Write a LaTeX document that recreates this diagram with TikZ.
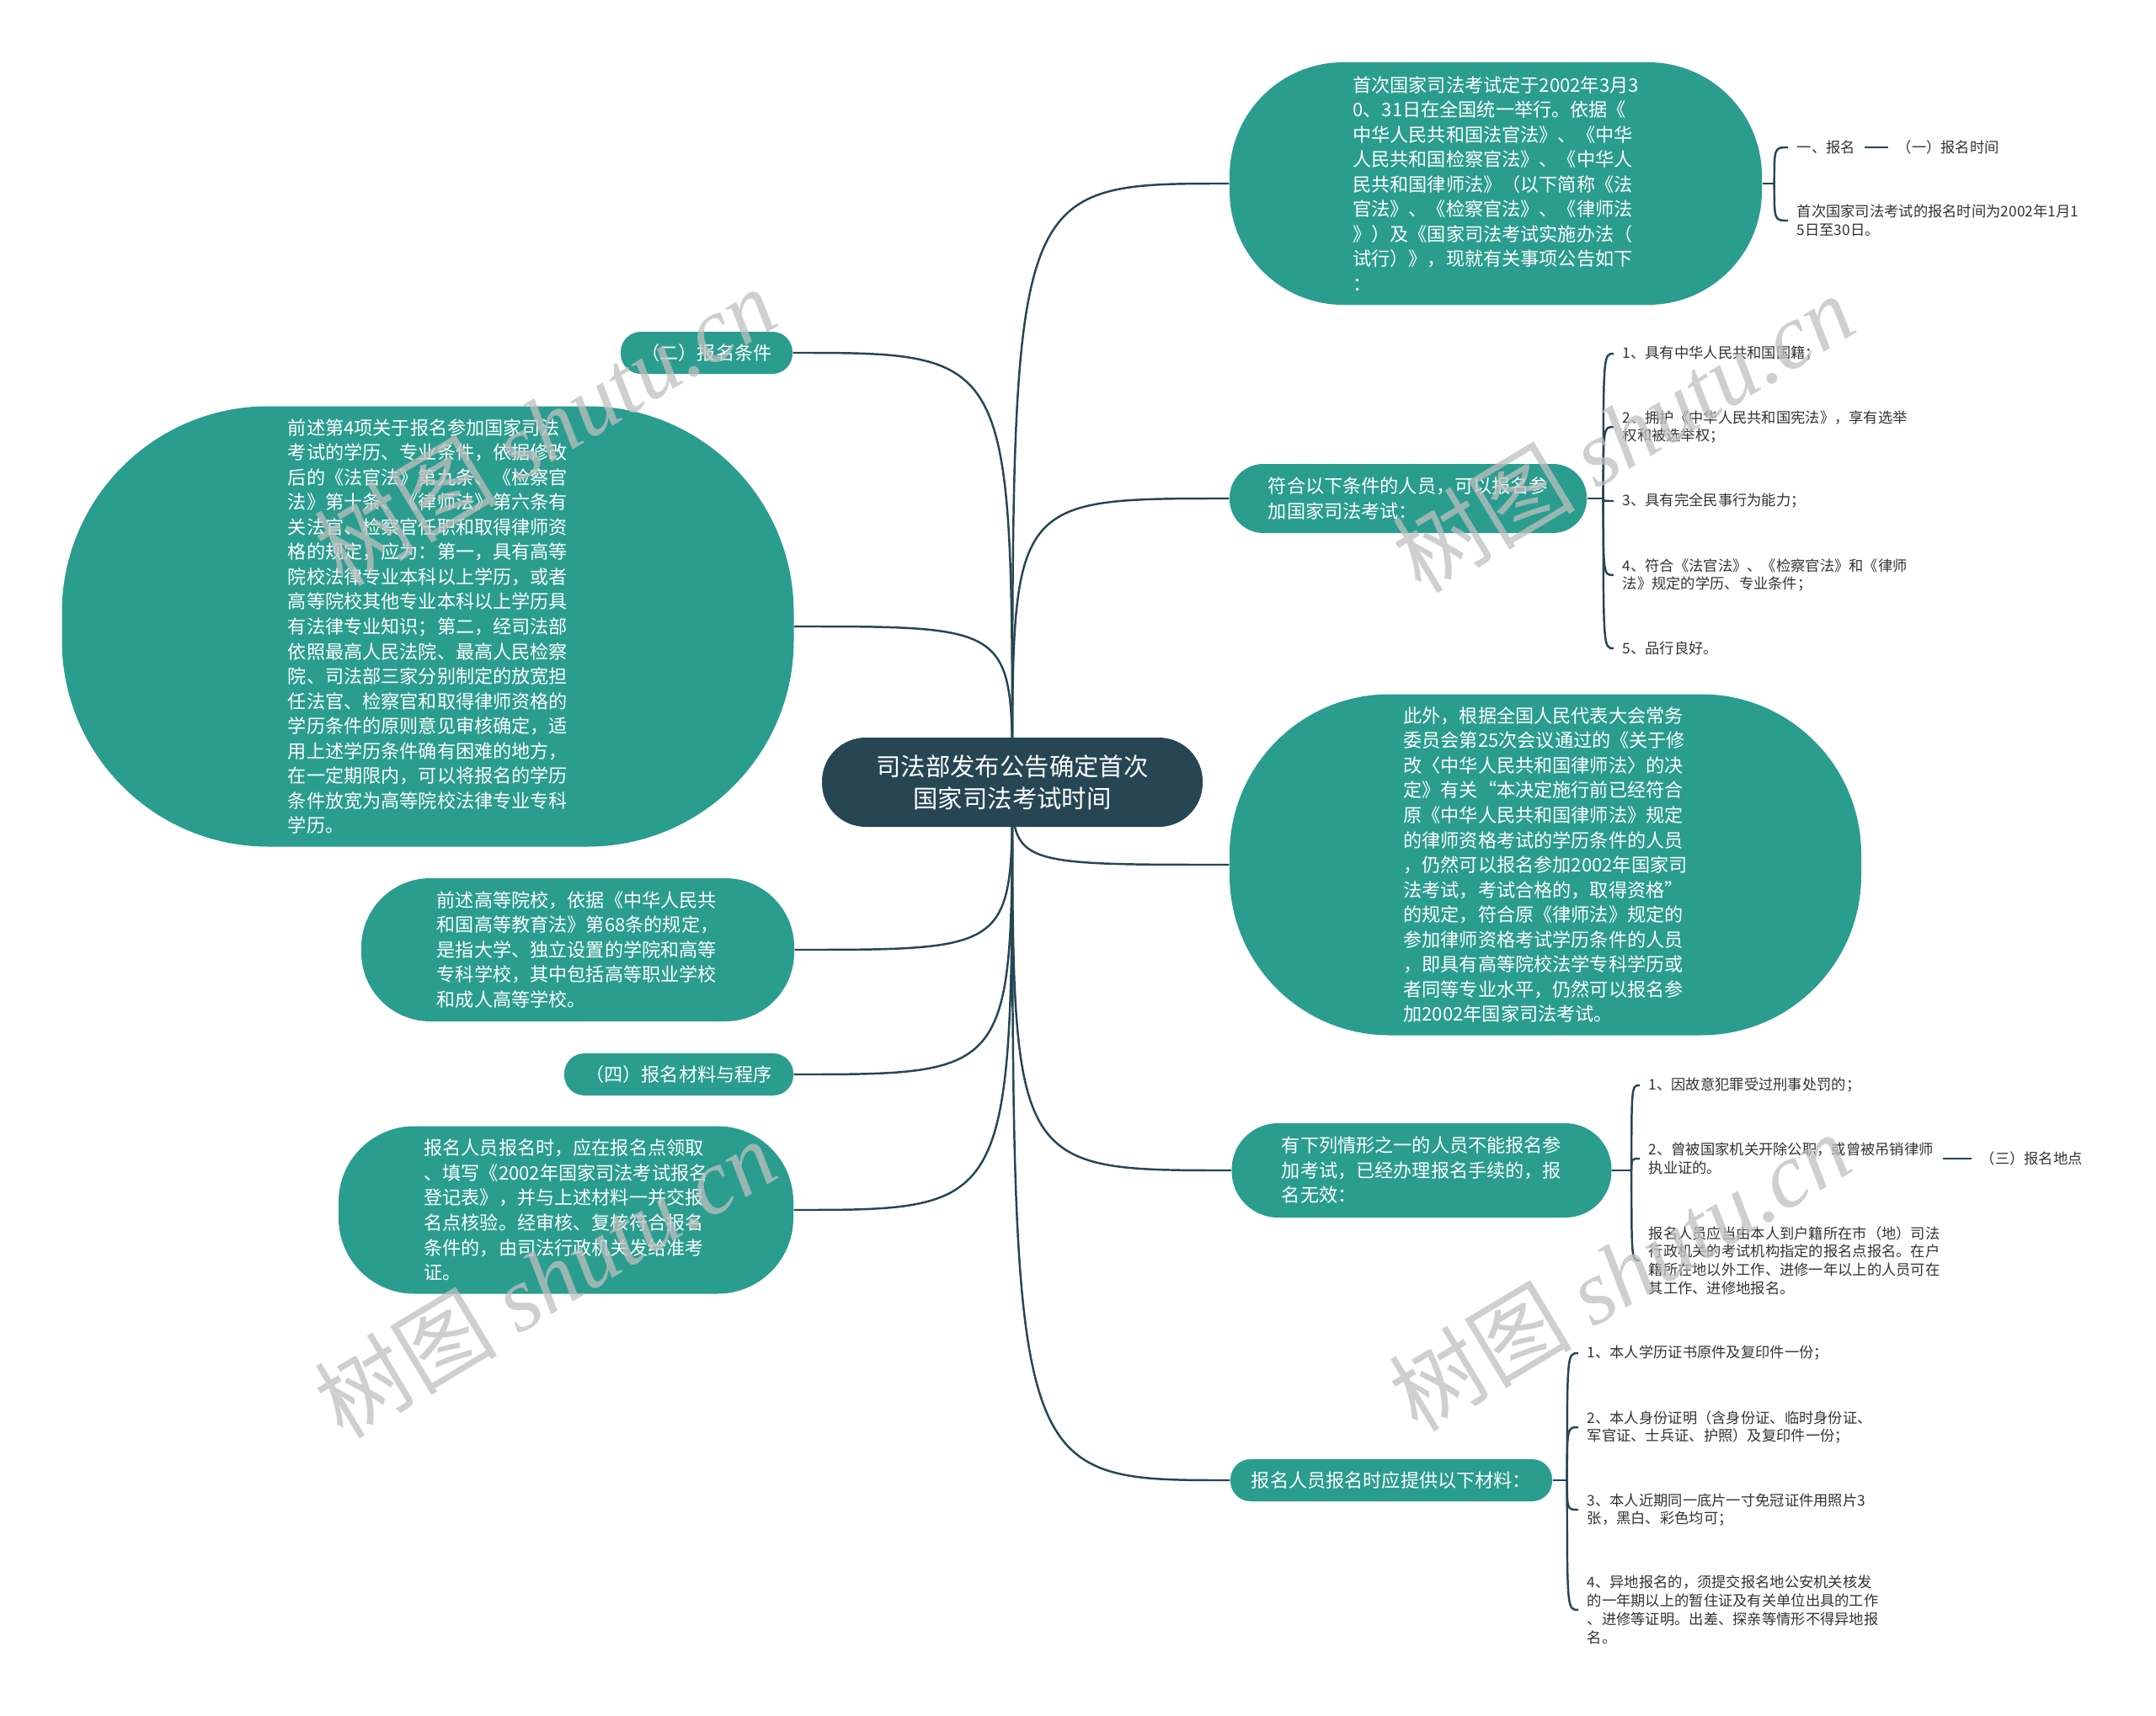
\documentclass[tikz,border=0pt]{standalone}
\usepackage{fontspec}
\setmainfont{Noto Sans CJK SC}
\newfontfamily\wmlatin{Liberation Serif}
\usetikzlibrary{backgrounds}
\definecolor{deepslate}{HTML}{264653}
\definecolor{seateal}{HTML}{2A9D8F}
\definecolor{leafgray}{HTML}{333333}

\begin{document}
\begin{tikzpicture}[
    topic/.style={fill=deepslate, text=white, align=center, inner sep=0pt, font=\fontsize{8.35}{10.8}\selectfont},
    branch/.style={fill=seateal, text=white, align=left, inner sep=0pt, font=\fontsize{6.3}{8.4}\selectfont},
    leaf/.style={anchor=west, align=left, inner xsep=0.1cm, inner ysep=0pt, text=leafgray, font=\fontsize{4.92}{6.2}\selectfont},
    link/.style={draw=deepslate, line width=0.7pt},
    watermark/.style={text=black!25, text opacity=0.75, rotate=31, font=\fontsize{31}{31}\selectfont}
]
\useasboundingbox (0,0) rectangle (25.6,-20.38);

% Centre topic
\node[topic, minimum width=4.52cm, minimum height=1.06cm, rounded corners=0.52cm] (root) at (12.02, -9.29) {司法部发布公告确定首次\\国家司法考试时间};

% Right side branches
\node[branch, minimum width=6.32cm, minimum height=2.88cm, rounded corners=1.35cm] (r1) at (17.76, -2.18) {首次国家司法考试定于2002年3月3\\0、31日在全国统一举行。依据《\\中华人民共和国法官法》、《中华\\人民共和国检察官法》、《中华人\\民共和国律师法》（以下简称《法\\官法》、《检察官法》、《律师法\\》）及《国家司法考试实施办法（\\试行）》，现就有关事项公告如下\\：};
\node[branch, minimum width=4.24cm, minimum height=0.82cm, rounded corners=0.4cm] (r2) at (16.72, -5.92) {符合以下条件的人员，可以报名参\\加国家司法考试：};
\node[branch, minimum width=7.5cm, minimum height=4.05cm, rounded corners=1.9cm] (r3) at (18.35, -10.27) {此外，根据全国人民代表大会常务\\委员会第25次会议通过的《关于修\\改〈中华人民共和国律师法〉的决\\定》有关“本决定施行前已经符合\\原《中华人民共和国律师法》规定\\的律师资格考试的学历条件的人员\\，仍然可以报名参加2002年国家司\\法考试，考试合格的，取得资格”\\的规定，符合原《律师法》规定的\\参加律师资格考试学历条件的人员\\，即具有高等院校法学专科学历或\\者同等专业水平，仍然可以报名参\\加2002年国家司法考试。};
\node[branch, minimum width=4.51cm, minimum height=1.12cm, rounded corners=0.55cm] (r4) at (16.88, -13.90) {有下列情形之一的人员不能报名参\\加考试，已经办理报名手续的，报\\名无效：};
\node[branch, minimum width=3.82cm, minimum height=0.5cm, rounded corners=0.24cm] (r5) at (16.52, -17.58) {报名人员报名时应提供以下材料：};

% Left side branches
\node[branch, minimum width=2.04cm, minimum height=0.5cm, rounded corners=0.24cm] (l1) at (8.39, -4.19) {（二）报名条件};
\node[branch, minimum width=8.69cm, minimum height=5.23cm, rounded corners=2.45cm] (l2) at (5.08, -7.44) {前述第4项关于报名参加国家司法\\考试的学历、专业条件，依据修改\\后的《法官法》第九条、《检察官\\法》第十条、《律师法》第六条有\\关法官、检察官任职和取得律师资\\格的规定，应为：第一，具有高等\\院校法律专业本科以上学历，或者\\高等院校其他专业本科以上学历具\\有法律专业知识；第二，经司法部\\依照最高人民法院、最高人民检察\\院、司法部三家分别制定的放宽担\\任法官、检察官和取得律师资格的\\学历条件的原则意见审核确定，适\\用上述学历条件确有困难的地方，\\在一定期限内，可以将报名的学历\\条件放宽为高等院校法律专业专科\\学历。};
\node[branch, minimum width=5.14cm, minimum height=1.7cm, rounded corners=0.82cm] (l3) at (6.86, -11.28) {前述高等院校，依据《中华人民共\\和国高等教育法》第68条的规定，\\是指大学、独立设置的学院和高等\\专科学校，其中包括高等职业学校\\和成人高等学校。};
\node[branch, minimum width=2.72cm, minimum height=0.5cm, rounded corners=0.24cm] (l4) at (8.06, -12.76) {（四）报名材料与程序};
\node[branch, minimum width=5.4cm, minimum height=1.99cm, rounded corners=0.9cm] (l5) at (6.72, -14.37) {报名人员报名时，应在报名点领取\\、填写《2002年国家司法考试报名\\登记表》，并与上述材料一并交报\\名点核验。经审核、复核符合报名\\条件的，由司法行政机关发给准考\\证。};

% Leaves of r1
\node[leaf] (r1a) at (21.23, -1.75) {一、报名};
\node[leaf] (r1a1) at (22.42, -1.75) {（一）报名时间};
\node[leaf] (r1b) at (21.23, -2.62) {首次国家司法考试的报名时间为2002年1月1\\5日至30日。};

% Leaves of r2
\node[leaf] (r2a) at (19.16, -4.20) {1、具有中华人民共和国国籍；};
\node[leaf] (r2b) at (19.16, -5.07) {2、拥护《中华人民共和国宪法》，享有选举\\权和被选举权；};
\node[leaf] (r2c) at (19.16, -5.95) {3、具有完全民事行为能力；};
\node[leaf] (r2d) at (19.16, -6.83) {4、符合《法官法》、《检察官法》和《律师\\法》规定的学历、专业条件；};
\node[leaf] (r2e) at (19.16, -7.70) {5、品行良好。};

% Leaves of r4
\node[leaf] (r4a) at (19.47, -12.89) {1、因故意犯罪受过刑事处罚的；};
\node[leaf] (r4b) at (19.47, -13.76) {2、曾被国家机关开除公职，或曾被吊销律师\\执业证的。};
\node[leaf] (r4b1) at (23.41, -13.76) {（三）报名地点};
\node[leaf] (r4c) at (19.47, -14.97) {报名人员应当由本人到户籍所在市（地）司法\\行政机关的考试机构指定的报名点报名。在户\\籍所在地以外工作、进修一年以上的人员可在\\其工作、进修地报名。};

% Leaves of r5
\node[leaf] (r5a) at (18.74, -16.07) {1、本人学历证书原件及复印件一份；};
\node[leaf] (r5b) at (18.74, -16.95) {2、本人身份证明（含身份证、临时身份证、\\军官证、士兵证、护照）及复印件一份；};
\node[leaf] (r5c) at (18.74, -17.93) {3、本人近期同一底片一寸免冠证件用照片3\\张，黑白、彩色均可；};
\node[leaf] (r5d) at (18.74, -19.12) {4、异地报名的，须提交报名地公安机关核发\\的一年期以上的暂住证及有关单位出具的工作\\、进修等证明。出差、探亲等情形不得异地报\\名。};

% Junctions of the brackets
\coordinate (r1j) at ([xshift=0.14cm]r1.east);
\coordinate (r2j) at ([xshift=0.19cm]r2.east);
\coordinate (r4j) at ([xshift=0.23cm]r4.east);
\coordinate (r5j) at ([xshift=0.17cm]r5.east);

\begin{scope}[on background layer]
\fill[white] (0,0) rectangle (25.6,-20.38);

% Curves from the centre topic (drawn behind)
\draw[link] (root.center) .. controls (root.center |- r1.west) .. (r1.west);
\draw[link] (root.center) .. controls (root.center |- r2.west) .. (r2.west);
\draw[link] (root.center) .. controls (root.center |- r3.west) .. (r3.west);
\draw[link] (root.center) .. controls (root.center |- r4.west) .. (r4.west);
\draw[link] (root.center) .. controls (root.center |- r5.west) .. (r5.west);
\draw[link] (root.center) .. controls (root.center |- l1.east) .. (l1.east);
\draw[link] (root.center) .. controls (root.center |- l2.east) .. (l2.east);
\draw[link] (root.center) .. controls (root.center |- l3.east) .. (l3.east);
\draw[link] (root.center) .. controls (root.center |- l4.east) .. (l4.east);
\draw[link] (root.center) .. controls (root.center |- l5.east) .. (l5.east);

% Bracket of r1
\draw[link] (r1.east) -- (r1j);
\draw[link] (r1j) .. controls (r1j |- r1a.west) .. (r1a.west);
\draw[link] (r1j) .. controls (r1j |- r1b.west) .. (r1b.west);
\draw[link] (r1a.east) -- (r1a1.west);

% Bracket of r2
\draw[link] (r2.east) -- (r2j);
\draw[link] (r2j) .. controls (r2j |- r2a.west) .. (r2a.west);
\draw[link] (r2j) .. controls (r2j |- r2b.west) .. (r2b.west);
\draw[link] (r2j) .. controls (r2j |- r2c.west) .. (r2c.west);
\draw[link] (r2j) .. controls (r2j |- r2d.west) .. (r2d.west);
\draw[link] (r2j) .. controls (r2j |- r2e.west) .. (r2e.west);

% Bracket of r4
\draw[link] (r4.east) -- (r4j);
\draw[link] (r4j) .. controls (r4j |- r4a.west) .. (r4a.west);
\draw[link] (r4j) .. controls (r4j |- r4b.west) .. (r4b.west);
\draw[link] (r4j) .. controls (r4j |- r4c.west) .. (r4c.west);
\draw[link] (r4b.east) -- (r4b1.west);

% Bracket of r5
\draw[link] (r5.east) -- (r5j);
\draw[link] (r5j) .. controls (r5j |- r5a.west) .. (r5a.west);
\draw[link] (r5j) .. controls (r5j |- r5b.west) .. (r5b.west);
\draw[link] (r5j) .. controls (r5j |- r5c.west) .. (r5c.west);
\draw[link] (r5j) .. controls (r5j |- r5d.west) .. (r5d.west);
\end{scope}

% Watermarks on top
\node[watermark] (wm1) at (6.47, -5.06) {树图 {\wmlatin\itshape shutu.cn}};
\node[watermark] (wm2) at (19.27, -5.14) {树图 {\wmlatin\itshape shutu.cn}};
\node[watermark] (wm3) at (6.47, -15.18) {树图 {\wmlatin\itshape shutu.cn}};
\node[watermark] (wm4) at (19.23, -15.10) {树图 {\wmlatin\itshape shutu.cn}};

\end{tikzpicture}
\end{document}
